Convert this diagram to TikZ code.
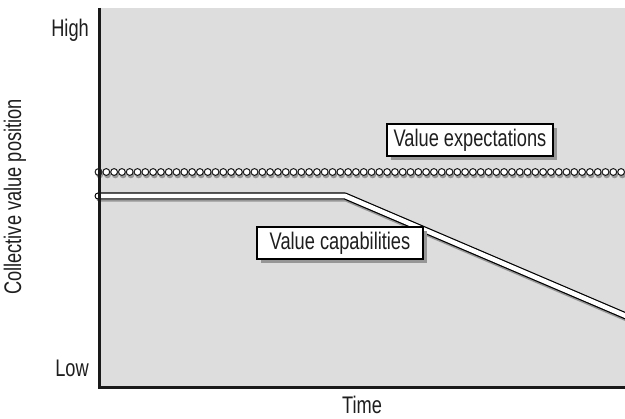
\documentclass[tikz,border=0pt]{standalone}
\usepackage{fontspec}
\setmainfont{Liberation Sans}[FakeStretch=0.76]
\usetikzlibrary{shadows}
\definecolor{panel}{RGB}{221,221,221}
\definecolor{ink}{RGB}{30,30,30}
\definecolor{castgray}{RGB}{150,150,150}
\tikzset{
  lbl/.style={font=\fontsize{24}{28}\selectfont, text=ink, inner sep=1pt},
  tagbox/.style={lbl, draw=black, line width=1.1pt, fill=white,
    minimum width=166pt, minimum height=32pt, inner sep=0pt,
    drop shadow={shadow xshift=4pt, shadow yshift=-4pt, fill=castgray, opacity=1}},
  axis/.style={line width=3pt, draw=black!90},
  bead/.style={draw=black!90, line width=1pt, fill=white},
}
\begin{document}
\begin{tikzpicture}[x=1pt,y=-1pt]
\useasboundingbox (0,0) rectangle (625,419);
% plotting panel
\fill[panel] (99,8) rectangle (625,387);

% value capabilities: flat, then falling
\coordinate (c0) at (98,196);
\coordinate (c1) at (345,196);
\coordinate (c2) at (640,322);
\begin{scope}
\clip (90,0) rectangle (625,419);
\draw[castgray, line width=6.5pt, line join=round, line cap=round]
  ([shift={(1.5,2.5)}]c0) -- ([shift={(1.5,2.5)}]c1) -- ([shift={(1.5,2.5)}]c2);
\draw[black, line width=7pt, line join=round, line cap=round] (c0) -- (c1) -- (c2);
\draw[white, line width=4.6pt, line join=round, line cap=round] (c0) -- (c1) -- (c2);

% value expectations: row of beads
\foreach \i in {0,...,68} {
  \fill[castgray] (98.5+7.8*\i+1.2,174.8) circle (3.5);
}
\foreach \i in {0,...,68} {
  \draw[bead] (98.5+7.8*\i,172) circle (3.4);
}
\end{scope}

% axes
\coordinate (o) at (99.5,387.5);
\coordinate (ytop) at (99.5,8);
\coordinate (xend) at (625,387.5);
\draw[axis] (ytop) -- (o) -- (xend);

% axis labels
\node[lbl, anchor=east] (hi) at (90,30) {High};
\node[lbl, anchor=east] (lo) at (90,368) {Low};
\node[lbl, anchor=base] (tm) at (362,414) {Time};
\node[lbl, rotate=90] (cv) at (15,197) {Collective value position};

% curve labels
\node[tagbox] (ve) at (470,140) {Value expectations};
\node[tagbox] (vc) at (340,243) {Value capabilities};
\end{tikzpicture}
\end{document}
